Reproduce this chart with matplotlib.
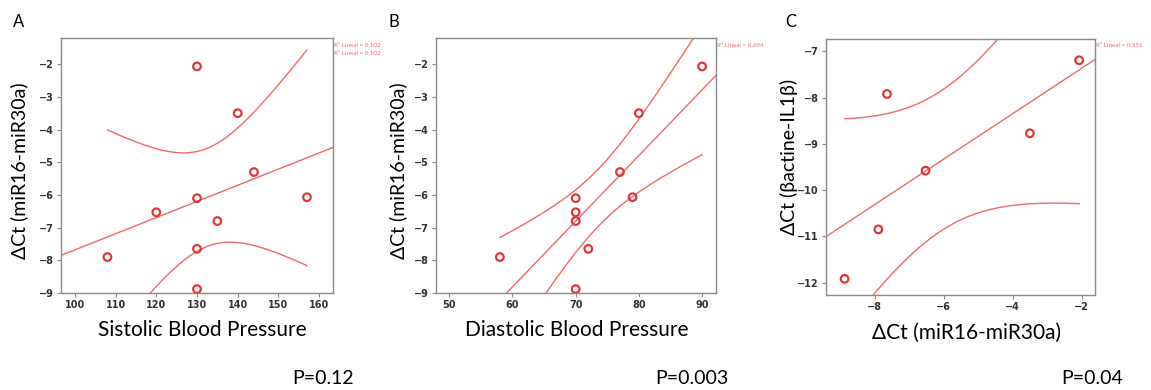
import numpy as np
import matplotlib
matplotlib.use("Agg")
import matplotlib.pyplot as plt

plt.rcParams["font.family"] = ["Lato", "DejaVu Sans"]

# panel A / B share the same expression values
delta_ct_mir = [-2.07, -3.5, -5.3, -6.1, -6.07, -6.53, -6.8, -7.65, -7.9, -8.88]
systolic = [130, 140, 144, 130, 157, 120, 135, 130, 108, 130]
diastolic = [90, 80, 77, 70, 79, 70, 70, 72, 58, 70]

# panel C
c_mir = [-8.88, -7.65, -7.9, -6.53, -3.5, -2.07]
c_il1b = [-11.92, -7.92, -10.85, -9.58, -8.77, -7.19]

r2_labels = ["R² Lineal = 0,102", "R² Lineal = 0,694", "R² Lineal = 0,551"]
p_labels = ["P=0.12", "P=0.003", "P=0.04"]

# two-sided 95% t critical values by degrees of freedom
T975 = {4: 2.776, 8: 2.306}

W, H = 1151, 390
POINT = "#e0383a"
LINE = "#ec6a6a"


def px_axes(fig, x0, y0, x1, y1):
    return fig.add_axes([x0 / W, 1 - y1 / H, (x1 - x0) / W, (y1 - y0) / H])


def fit_panel(ax, x, y, xlim, ylim, xticks, yticks):
    x = np.asarray(x, float)
    y = np.asarray(y, float)
    n = len(x)
    xm, ym = x.mean(), y.mean()
    sxx = ((x - xm) ** 2).sum()
    slope = ((x - xm) * (y - ym)).sum() / sxx
    icpt = ym - slope * xm
    s = np.sqrt(((y - (icpt + slope * x)) ** 2).sum() / (n - 2))
    t = T975[n - 2]

    xs = np.linspace(xlim[0], xlim[1], 200)
    ax.plot(xs, icpt + slope * xs, color=LINE, lw=1.0)
    xc = np.linspace(x.min(), x.max(), 200)
    half = t * s * np.sqrt(1 / n + (xc - xm) ** 2 / sxx)
    ax.plot(xc, icpt + slope * xc + half, color=LINE, lw=1.0)
    ax.plot(xc, icpt + slope * xc - half, color=LINE, lw=1.0)

    ax.scatter(x, y, s=30, facecolors="none", edgecolors=POINT, linewidths=1.6, zorder=3)
    ax.set_xlim(*xlim)
    ax.set_ylim(*ylim)
    ax.set_xticks(xticks)
    ax.set_yticks(yticks)
    for sp in ax.spines.values():
        sp.set_color("#8a8a8a")
        sp.set_linewidth(1.0)
    ax.tick_params(direction="out", length=3, width=0.8, color="#8a8a8a",
                   labelsize=7, labelcolor="#333333", pad=2)
    for lab in ax.get_xticklabels() + ax.get_yticklabels():
        lab.set_fontweight("bold")
        lab.set_family(["DejaVu Sans"])


fig = plt.figure(figsize=(W / 100, H / 100), dpi=100, facecolor="white")

axA = px_axes(fig, 61, 38, 333, 293)
fit_panel(axA, systolic, delta_ct_mir, (96.6, 163.4), (-9, -1.2),
          range(100, 161, 10), range(-9, -1))
axB = px_axes(fig, 436, 38, 716, 293)
fit_panel(axB, diastolic, delta_ct_mir, (47.9, 92.2), (-9, -1.2),
          range(50, 91, 10), range(-9, -1))
axC = px_axes(fig, 826, 39, 1095, 295)
fit_panel(axC, c_mir, c_il1b, (-9.42, -1.61), (-12.27, -6.73),
          [-8, -6, -4, -2], range(-12, -6))

big = 14
fig.text(13 / W, 1 - 22 / H, "A", fontsize=12, va="center", ha="left")
fig.text(388 / W, 1 - 22 / H, "B", fontsize=12, va="center", ha="left")
fig.text(785 / W, 1 - 22 / H, "C", fontsize=12, va="center", ha="left")

fig.text(19 / W, 1 - 171 / H, "ΔCt (miR16-miR30a)", fontsize=big, rotation=90,
         va="center", ha="center")
fig.text(398 / W, 1 - 171 / H, "ΔCt (miR16-miR30a)", fontsize=big, rotation=90,
         va="center", ha="center")
fig.text(789 / W, 1 - 157 / H, "ΔCt (βactine-IL1β)", fontsize=big, rotation=90,
         va="center", ha="center")

fig.text(202 / W, 1 - 330 / H, "Sistolic Blood Pressure", fontsize=15, va="center", ha="center")
fig.text(577 / W, 1 - 330 / H, "Diastolic Blood Pressure", fontsize=15, va="center", ha="center")
fig.text(967 / W, 1 - 333 / H, "ΔCt (miR16-miR30a)", fontsize=15, va="center", ha="center")

fig.text(323 / W, 1 - 379 / H, p_labels[0], fontsize=14, va="center", ha="center")
fig.text(692 / W, 1 - 379 / H, p_labels[1], fontsize=14, va="center", ha="center")
fig.text(1092 / W, 1 - 379 / H, p_labels[2], fontsize=14, va="center", ha="center")

r2 = dict(fontsize=4.5, color="#ee6b6b", va="center", ha="left")
fig.text(334 / W, 1 - 44 / H, r2_labels[0], **r2)
fig.text(334 / W, 1 - 52 / H, r2_labels[0], **r2)
fig.text(717 / W, 1 - 44 / H, r2_labels[1], **r2)
fig.text(1096 / W, 1 - 44 / H, r2_labels[2], **r2)

fig.savefig("out.png", dpi=100, facecolor="white")
